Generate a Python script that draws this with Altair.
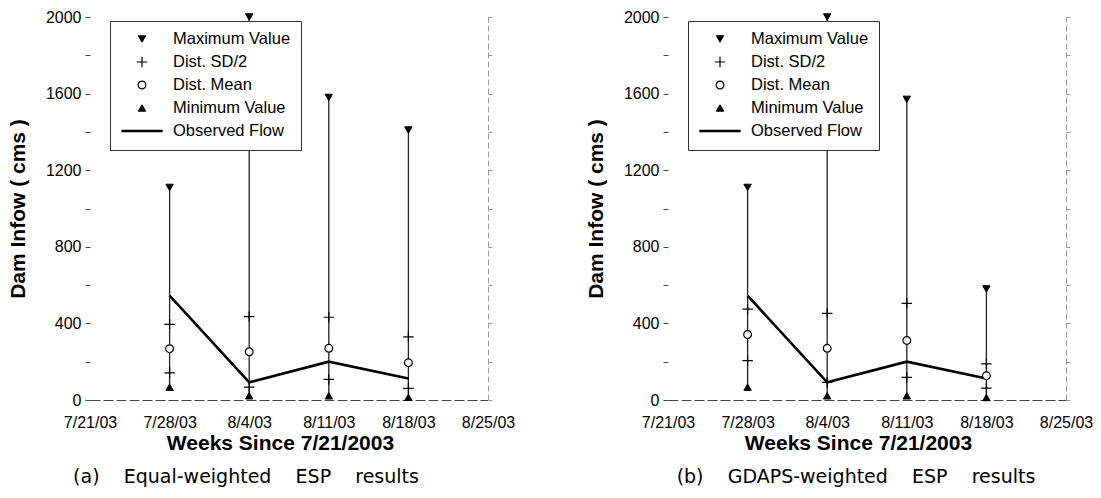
import altair as alt
import pandas as pd

# ---------------- data ----------------
tick_labels = ["7/21/03", "7/28/03", "8/4/03", "8/11/03", "8/18/03", "8/25/03"]
tick_days = [0, 7, 14, 21, 28, 35]          # days since 7/21/2003
week_days = [7, 14, 21, 28]                  # forecast weeks (7/28 .. 8/18)

observed = [545, 92, 200, 112]

a_max = [1110, 2000, 1580, 1410]
a_sd_hi = [395, 435, 432, 330]
a_mean = [268, 252, 270, 195]
a_sd_lo = [142, 67, 108, 61]
a_min = [67, 22, 22, 14]

b_max = [1110, 2000, 1570, 580]
b_sd_hi = [475, 452, 505, 189]
b_mean = [342, 270, 311, 127]
b_sd_lo = [206, 92, 118, 62]
b_min = [67, 22, 22, 13]

kinds = ["Maximum Value", "Dist. SD/2", "Dist. Mean", "Minimum Value", "Observed Flow"]
shapes = ["triangle-down", "M-1,0L1,0M0,-1L0,1", "circle", "triangle-up", "stroke"]
fills = ["black", "transparent", "white", "black", "transparent"]
strokes = ["black", "black", "black", "black", "black"]
sizes = [55, 110, 60, 55, 1700]
widths = [1, 1.2, 1.2, 1, 2.6]

captions = [
    "(a)\u00a0\u00a0\u00a0\u00a0Equal-weighted\u00a0\u00a0\u00a0\u00a0ESP\u00a0\u00a0\u00a0\u00a0results",
    "(b)\u00a0\u00a0\u00a0\u00a0GDAPS-weighted\u00a0\u00a0\u00a0\u00a0ESP\u00a0\u00a0\u00a0\u00a0results",
]
caption_dx = [-43, -11]

FONT = "Liberation Sans"
W, H = 398, 383

label_js = "[" + ",".join("'" + s + "'" for s in tick_labels) + "]"
xscale = alt.Scale(domain=[tick_days[0], tick_days[-1]], nice=False, zero=False)
yscale = alt.Scale(domain=[0, 2000], nice=False)
ytick_vals = list(range(0, 2001, 200))


def panel(mx, sdh, mean, sdl, mn, caption, dx):
    wide = pd.DataFrame({"day": week_days, "min": mn, "max": mx, "obs": observed})
    rows = []
    for i, d in enumerate(week_days):
        rows += [
            {"day": d, "value": mx[i], "kind": kinds[0]},
            {"day": d, "value": sdh[i], "kind": kinds[1]},
            {"day": d, "value": sdl[i], "kind": kinds[1]},
            {"day": d, "value": mean[i], "kind": kinds[2]},
            {"day": d, "value": mn[i], "kind": kinds[3]},
        ]
    pts = pd.DataFrame(rows)

    xaxis = alt.Axis(
        values=tick_days, labelExpr=label_js + "[round(datum.value / 7)]", ticks=False,
        domainColor="#444", domainDash=[10, 3], domainWidth=1.2,
        labelFont=FONT, labelFontSize=16, labelColor="black", labelPadding=14,
        labelOverlap=False, labelFlush=False, grid=False,
        title="Weeks Since 7/21/2003", titleFont=FONT, titleFontSize=21,
        titleFontWeight="bold", titleColor="black", titlePadding=2, titleX=W / 2 - 9,
    )
    yaxis_left = alt.Axis(
        orient="left", values=ytick_vals, format="d",
        labelExpr="datum.value % 400 === 0 ? datum.label : ''",
        domain=False, tickSize=5, tickColor="#444", grid=False,
        labelFont=FONT, labelFontSize=16, labelColor="black", labelPadding=4,
        labelOverlap=False,
        title="Dam Infow ( cms )", titleFont=FONT, titleFontSize=21,
        titleFontWeight="bold", titleColor="black", titlePadding=16.5,
    )
    yaxis_right = alt.Axis(
        orient="right", values=ytick_vals, labels=False, title=None, grid=False,
        domainColor="#999", domainDash=[6, 3], tickColor="#999", tickSize=4,
    )

    rules = alt.Chart(wide).mark_rule(color="#222", strokeWidth=1.3).encode(
        x=alt.X("day:Q", scale=xscale, axis=xaxis),
        y=alt.Y("min:Q", scale=yscale, axis=yaxis_left),
        y2="max:Q",
    )
    line = alt.Chart(wide).mark_line(color="black", strokeWidth=2.6).encode(
        x=alt.X("day:Q", scale=xscale),
        y=alt.Y("obs:Q", scale=yscale, axis=yaxis_right),
    )
    leg = alt.Legend(
        orient="none", legendX=20, legendY=4, title=None,
        fillColor="white", strokeColor="#333", padding=10,
        labelFont=FONT, labelFontSize=16.5, labelColor="black", labelOffset=9,
        rowPadding=6, symbolStrokeColor="black", clipHeight=16,
    )
    points = alt.Chart(pts).mark_point(opacity=1).encode(
        x=alt.X("day:Q", scale=xscale),
        y=alt.Y("value:Q", scale=yscale, axis=None),
        shape=alt.Shape("kind:N", scale=alt.Scale(domain=kinds, range=shapes), legend=leg),
        fill=alt.Fill("kind:N", scale=alt.Scale(domain=kinds, range=fills), legend=leg),
        stroke=alt.Stroke("kind:N", scale=alt.Scale(domain=kinds, range=strokes), legend=leg),
        size=alt.Size("kind:N", scale=alt.Scale(type="ordinal", domain=kinds, range=sizes), legend=leg),
        strokeWidth=alt.StrokeWidth("kind:N", scale=alt.Scale(type="ordinal", domain=kinds, range=widths), legend=leg),
    )
    return alt.layer(rules, line, points).resolve_axis(y="independent").properties(
        width=W, height=H,
        title=alt.TitleParams(
            text=caption, orient="bottom", anchor="middle", frame="group",
            font="DejaVu Sans", fontSize=19, fontWeight="normal", color="black",
            dx=dx, offset=15,
        ),
    )


pa = panel(a_max, a_sd_hi, a_mean, a_sd_lo, a_min, captions[0], caption_dx[0])
pb = panel(b_max, b_sd_hi, b_mean, b_sd_lo, b_min, captions[1], caption_dx[1])

indep = dict(shape="independent", fill="independent", stroke="independent",
             size="independent", strokeWidth="independent")
chart = alt.hconcat(pa, pb, spacing=70).resolve_scale(**indep).resolve_legend(**indep).properties(
    padding={"left": 7, "top": 9, "right": 0, "bottom": 0}, background="white"
).configure_view(stroke=None)

chart.save("out.html", embed_options={"renderer": "svg", "actions": False})
